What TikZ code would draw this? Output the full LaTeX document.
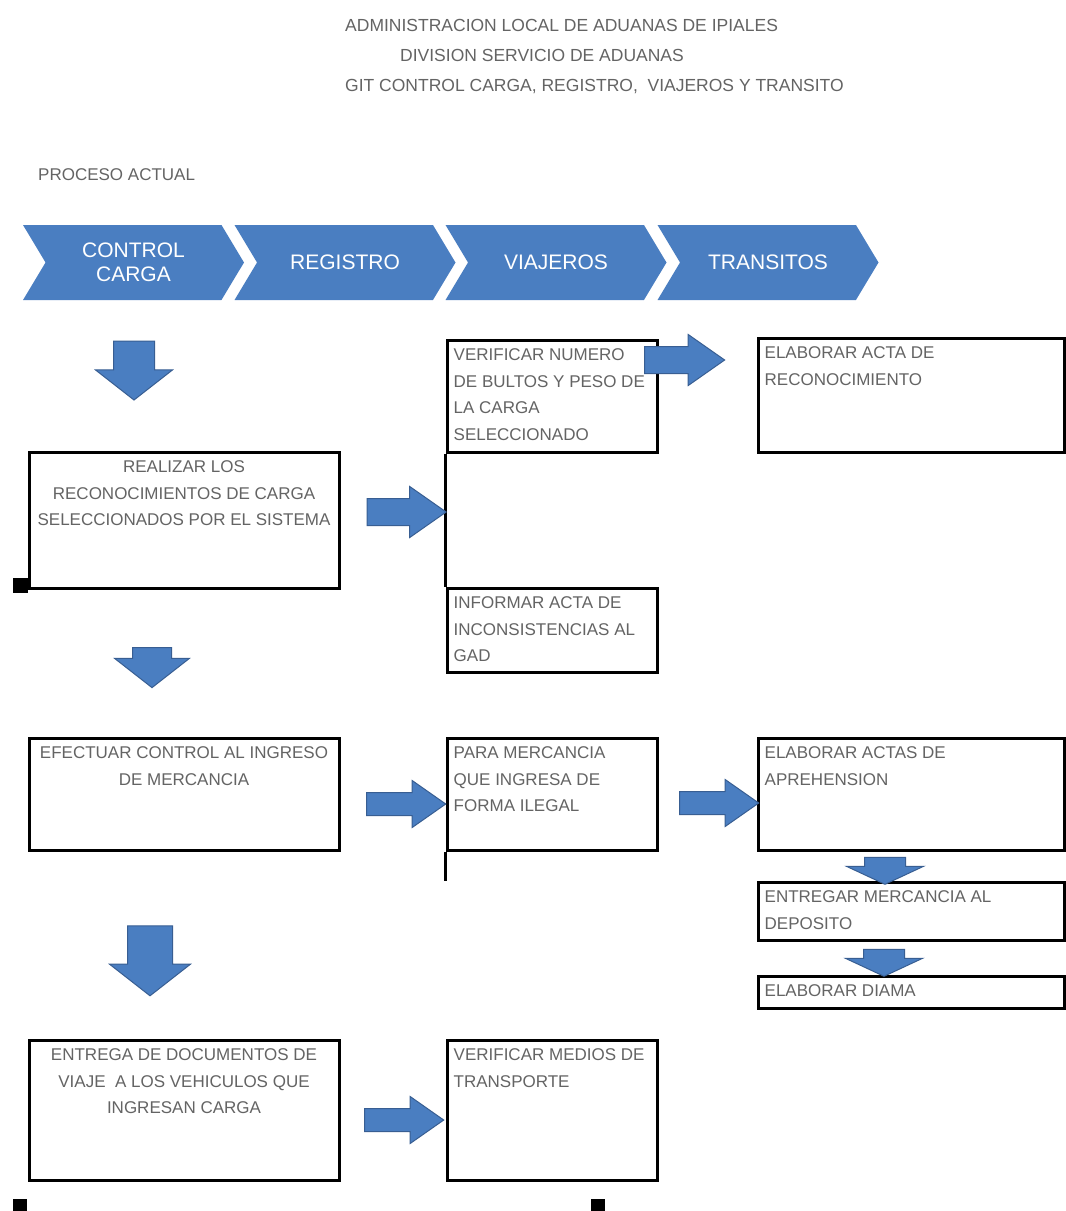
\documentclass[tikz,border=0pt]{standalone}
\usepackage{fontspec}
\setmainfont{Liberation Sans}
\usetikzlibrary{positioning,shapes.arrows,shapes.symbols}
\definecolor{flow}{RGB}{74,126,193}
\definecolor{flowline}{RGB}{56,94,146}
\definecolor{txtgray}{RGB}{100,100,100}
\begin{document}
\begin{tikzpicture}[x=1pt,y=-1pt,
  box/.style={draw, line width=3pt, inner sep=0pt},
  ctxt/.style={inner sep=0pt, align=center, text=txtgray, font=\fontsize{17}{26.5}\selectfont},
  ltxt/.style={inner sep=0pt, align=left, text=txtgray, font=\fontsize{17}{26.5}\selectfont},
  head/.style={inner sep=0pt, anchor=west, text=txtgray, font=\fontsize{17.5}{20}\selectfont},
  phase/.style={shape=signal, signal from=west, signal to=east, signal pointer angle=118, fill=flow,
    inner sep=0pt, minimum height=75pt, minimum width=221pt, text=white, align=center,
    font=\fontsize{21}{24}\selectfont},
  rarrow/.style={single arrow, fill=flow, draw=flowline, line width=1pt, inner xsep=0pt, inner ysep=13pt,
    minimum width=0pt, single arrow head extend=12pt, single arrow tip angle=70, minimum height=79pt},
  darrow/.style={single arrow, rotate=-90, fill=flow, draw=flowline, line width=1pt, inner xsep=0pt, inner ysep=20pt,
    minimum width=0pt, single arrow head extend=18pt, single arrow tip angle=104, minimum height=59pt}
]
\useasboundingbox[fill=white] (0,0) rectangle (1066,1211);

\node[head] (title1) at (345,25) {ADMINISTRACION LOCAL DE ADUANAS DE IPIALES};
\node[head] (title2) at (400,55) {DIVISION SERVICIO DE ADUANAS};
\node[head] (title3) at (345,87) {GIT CONTROL CARGA, REGISTRO, \ VIAJEROS Y TRANSITO};
\node[head, font=\fontsize{17}{20}\selectfont] (proceso) at (38,175) {PROCESO ACTUAL};

\node[phase] (carga) at (133.5,262.5) {CONTROL\\CARGA};
\node[phase] (registro) at (345,262.5) {REGISTRO};
\node[phase] (viajeros) at (556,262.5) {VIAJEROS};
\node[phase] (transitos) at (768,262.5) {TRANSITOS};

\node[box, minimum width=310pt, minimum height=136pt] (realizar) at (184,520) {};
\node[ctxt, below=10pt of realizar.north] (realizar-t) {REALIZAR LOS\\RECONOCIMIENTOS DE CARGA\\SELECCIONADOS POR EL SISTEMA};
\node[box, minimum width=210pt, minimum height=112pt] (verificar) at (552,396) {};
\node[ltxt, below right=10pt and 8pt of verificar.north west] (verificar-t) {VERIFICAR NUMERO\\DE BULTOS Y PESO DE\\LA CARGA\\SELECCIONADO};
\node[box, minimum width=306pt, minimum height=114pt] (acta) at (911,395) {};
\node[ltxt, below right=10pt and 8pt of acta.north west] (acta-t) {ELABORAR ACTA DE\\RECONOCIMIENTO};
\node[box, minimum width=210pt, minimum height=84pt] (informar) at (552,630) {};
\node[ltxt, below right=10pt and 8pt of informar.north west] (informar-t) {INFORMAR ACTA DE\\INCONSISTENCIAS AL\\GAD};
\draw[line width=3pt] (verificar.south west) -- (informar.north west);

\node[box, minimum width=310pt, minimum height=112pt] (efectuar) at (184,794) {};
\node[ctxt, below=10pt of efectuar.north] (efectuar-t) {EFECTUAR CONTROL AL INGRESO\\DE MERCANCIA};
\node[box, minimum width=210pt, minimum height=112pt] (para) at (552,794) {};
\node[ltxt, below right=10pt and 8pt of para.north west] (para-t) {PARA MERCANCIA\\QUE INGRESA DE\\FORMA ILEGAL};
\coordinate (paraend) at ([yshift=-29pt]para.south west);
\draw[line width=3pt] (para.south west) -- (paraend);
\node[box, minimum width=306pt, minimum height=112pt] (actas) at (911,794) {};
\node[ltxt, below right=10pt and 8pt of actas.north west] (actas-t) {ELABORAR ACTAS DE\\APREHENSION};
\node[box, minimum width=306pt, minimum height=58pt] (deposito) at (911,911) {};
\node[ltxt, below right=10pt and 8pt of deposito.north west] (deposito-t) {ENTREGAR MERCANCIA AL\\DEPOSITO};
\node[box, minimum width=306pt, minimum height=32pt] (diama) at (911,992) {};
\node[ltxt, below right=10pt and 8pt of diama.north west] (diama-t) {ELABORAR DIAMA};

\node[box, minimum width=310pt, minimum height=140pt] (entrega) at (184,1110) {};
\node[ctxt, below=10pt of entrega.north] (entrega-t) {ENTREGA DE DOCUMENTOS DE\\VIAJE \ A LOS VEHICULOS QUE\\INGRESAN CARGA};
\node[box, minimum width=210pt, minimum height=140pt] (medios) at (552,1110) {};
\node[ltxt, below right=10pt and 8pt of medios.north west] (medios-t) {VERIFICAR MEDIOS DE\\TRANSPORTE};

\node[darrow] (da1) at (134,362.5) {};
\node[darrow, minimum height=40pt, inner ysep=19pt] (da2) at (152,660) {};
\node[darrow, minimum height=70pt, inner ysep=22pt] (da3) at (150,952) {};
\node[darrow, minimum height=27pt, single arrow tip angle=130] (da4) at (885,866) {};
\node[darrow, minimum height=27pt, single arrow tip angle=130] (da5) at (884,958) {};
\node[rarrow] (ra1) at (397,512) {};
\node[rarrow, minimum height=80pt] (ra2) at (675,360) {};
\node[rarrow, inner ysep=11pt] (ra3) at (398,804) {};
\node[rarrow, inner ysep=11pt] (ra4) at (711,803) {};
\node[rarrow, inner ysep=11pt] (ra5) at (396,1120) {};

\fill (13,578) rectangle (28,593);
\fill (13,1199) rectangle (27,1211);
\fill (591,1199) rectangle (605,1211);
\end{tikzpicture}
\end{document}
